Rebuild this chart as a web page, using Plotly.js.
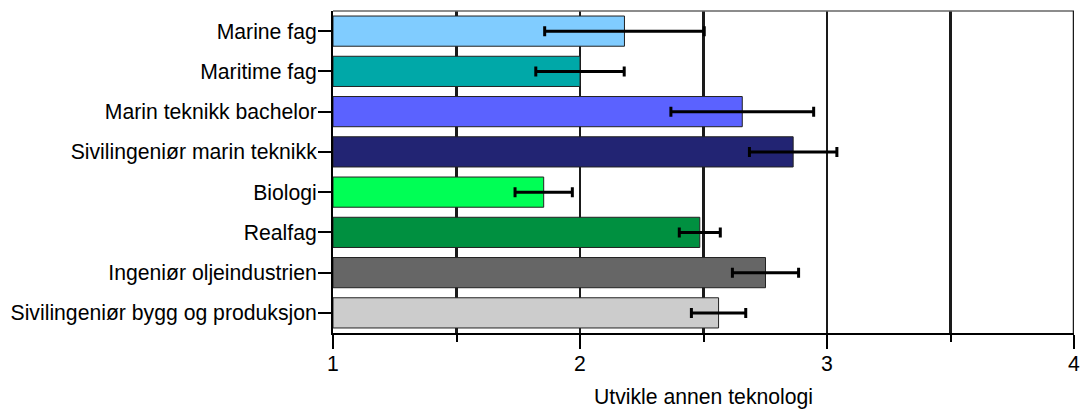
<!DOCTYPE html>
<html>
<head>
<meta charset="utf-8">
<script src="https://cdn.plot.ly/plotly-3.0.1.min.js"></script>
<style>html,body{margin:0;padding:0;background:#fff;}#chart{width:1082px;height:409px;}</style>
</head>
<body>
<div id="chart"></div>
<script>
const categories = ["Marine fag","Maritime fag","Marin teknikk bachelor","Sivilingeniør marin teknikk","Biologi","Realfag","Ingeniør oljeindustrien","Sivilingeniør bygg og produksjon"];
const means = [2.18, 2.00, 2.657, 2.863, 1.853, 2.485, 2.751, 2.561];
const errors = [0.323, 0.179, 0.289, 0.177, 0.116, 0.083, 0.134, 0.110];
const colors = ["#80CCFF","#00A8A8","#5B62FF","#222473","#00FF55","#009040","#666666","#CCCCCC"];
const xTickVals = [1,2,3,4];
const xTickText = ["1","2","3","4"];
const xTitle = "Utvikle annen teknologi";
const axisStart = 1;

const font = {family: "Liberation Sans, Arial, sans-serif", size: 21.2, color: "#000"};

const trace = {
  type: "bar",
  orientation: "h",
  y: categories,
  x: means.map(v => v - axisStart),
  base: axisStart,
  marker: {color: colors, line: {color: "#222", width: 1}},
  width: 0.75,
  error_x: {type: "data", array: errors, visible: true, color: "#000", thickness: 3, width: 5},
  hoverinfo: "none"
};

const layout = {
  width: 1082, height: 409,
  margin: {l: 333, r: 8, t: 11, b: 76},
  paper_bgcolor: "#fff", plot_bgcolor: "#fff",
  showlegend: false,
  font: font,
  xaxis: {
    range: [1, 4],
    tickvals: xTickVals, ticktext: xTickText,
    ticks: "outside", ticklen: 14, tickwidth: 2, tickcolor: "#000",
    showline: true, linecolor: "#000", linewidth: 2,
    showgrid: true, gridcolor: "#1a1a1a", gridwidth: 2.5,
    minor: {dtick: 0.5, tick0: 1, ticks: "outside", ticklen: 7, tickwidth: 2, tickcolor: "#000", showgrid: true, gridcolor: "#1a1a1a", gridwidth: 2.5},
    zeroline: false,
    tickfont: font,
    ticklabelstandoff: -3,
    title: {text: xTitle, font: font, standoff: 22},
    fixedrange: true
  },
  yaxis: {
    autorange: false,
    range: [categories.length - 0.5, -0.5],
    type: "category",
    ticks: "outside", ticklen: 13, tickwidth: 2, tickcolor: "#000",
    showline: true, linecolor: "#000", linewidth: 2,
    showgrid: false, zeroline: false,
    tickfont: font,
    ticklabelstandoff: -3,
    fixedrange: true
  },
  shapes: [
    {type: "line", xref: "paper", yref: "paper", x0: 0, x1: 1, y0: 1, y1: 1, line: {color: "#666", width: 1.5}},
    {type: "line", xref: "x", yref: "paper", x0: 4, x1: 4, y0: 0, y1: 1, line: {color: "#1a1a1a", width: 2.5}}
  ]
};

Plotly.newPlot("chart", [trace], layout, {staticPlot: true, displayModeBar: false});
</script>
</body>
</html>
